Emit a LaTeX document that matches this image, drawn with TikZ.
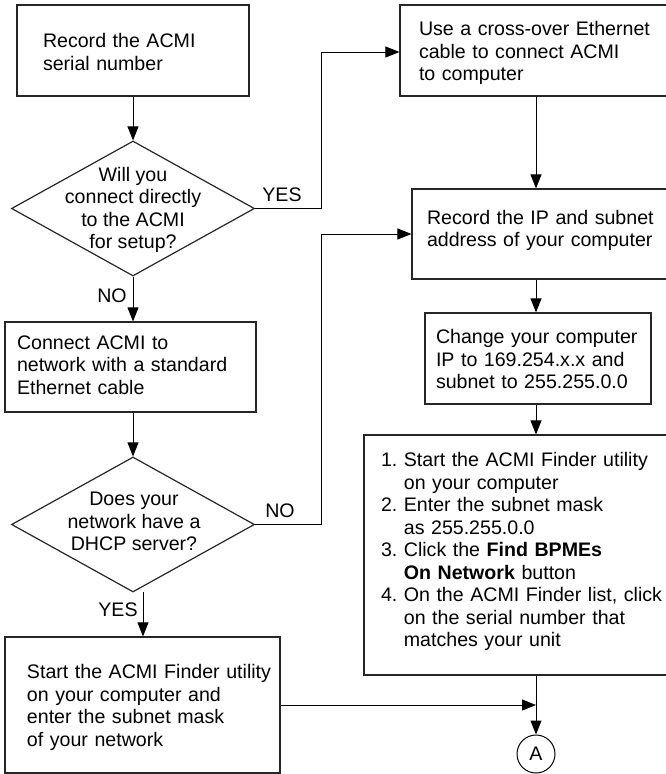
\documentclass[tikz,border=0pt]{standalone}
\usepackage{fontspec}
\setmainfont{Liberation Sans}
\usetikzlibrary{arrows.meta,shapes.geometric,calc}
\newcommand{\boxlines}[2][0pt]{\raisebox{-#1}[\height][\depth]{\begin{tabular}{@{}l@{}}#2\end{tabular}}}
\begin{document}
\begin{tikzpicture}[x=1pt,y=-1pt,
  every node/.style={font=\fontsize{19.6}{22.5}\selectfont\frenchspacing},
  box/.style={draw=black!85, line width=1.2pt, rectangle, align=left, inner ysep=0pt},
  dia/.style={draw=black!85, line width=1.2pt, diamond, inner sep=0pt, minimum width=243pt, minimum height=135pt},
  dtext/.style={align=center, inner sep=0pt},
  arr/.style={line width=1pt, -{Triangle[length=14pt,width=11pt]}},
  lbl/.style={inner sep=0pt},
  conn/.style={draw=black, line width=1pt, circle, minimum size=38pt, inner sep=0pt}]
\useasboundingbox (0,0) rectangle (666,774);
\clip (0,0) rectangle (666,774);

% boxes
\node[box, minimum width=232pt, minimum height=91pt, inner xsep=26pt, text width=180pt] (b1) at (133,50.5)
  {\boxlines[4pt]{Record the ACMI\\serial number}};
\node[box, minimum width=280pt, minimum height=91pt, inner xsep=19pt, text width=242pt] (b2) at (540,50.5)
  {\boxlines[3pt]{Use a cross-over Ethernet\\cable to connect ACMI\\to computer}};
\node[box, minimum width=268pt, minimum height=90pt, inner xsep=15pt, text width=238pt] (b3) at (546,234)
  {\boxlines[-3pt]{Record the IP and subnet\\address of your computer}};
\node[box, minimum width=226pt, minimum height=91pt, inner xsep=11pt, text width=204pt] (b4) at (538,358.5)
  {\boxlines[3pt]{Change your computer\\IP to 169.254.x.x and\\subnet to 255.255.0.0}};
\node[box, minimum width=316pt, minimum height=240pt, inner xsep=17pt, text width=282pt] (b5) at (522,555)
  {\boxlines[-3pt]{1. Start the ACMI Finder utility\\
  \phantom{1. }on your computer\\
  2. Enter the subnet mask\\
  \phantom{2. }as 255.255.0.0\\
  3. Click the \textbf{Find BPMEs}\\
  \phantom{3. }\textbf{On Network} button\\
  4. On the ACMI Finder list, click\\
  \phantom{4. }on the serial number that\\
  \phantom{4. }matches your unit}};
\node[box, minimum width=251pt, minimum height=90pt, inner xsep=12pt, text width=227pt] (bC) at (130.5,367)
  {\boxlines{Connect ACMI to\\network with a standard\\Ethernet cable}};
\node[box, minimum width=275pt, minimum height=136pt, inner xsep=22pt, text width=231pt] (b6) at (142.5,705)
  {\boxlines[3pt]{Start the ACMI Finder utility\\on your computer and\\enter the subnet mask\\of your network}};

% decisions
\node[dia] (d1) at (133,208.5) {};
\node[dtext] (d1t) at (133,210) {Will you\\connect directly\\to the ACMI\\for setup?};
\node[dia] (d2) at (133,524.5) {};
\node[dtext] (d2t) at (134,521.5) {Does your\\network have a\\DHCP server?};

% connector circle
\node[conn] (cA) at (536,754) {A};

% helper coordinates
\coordinate (ax) at (536,0);
\coordinate (j1) at (321,52);
\coordinate (j2) at (321,234);
\coordinate (y0) at (143,592);

% connectors
\draw[arr] (b1.south) -- (d1.north);
\draw[arr] (d1.east) -| (j1) -- (j1 -| b2.west);
\draw[arr] (d1.south) -- (d1.south |- bC.north);
\draw[arr] (d2.north |- bC.south) -- (d2.north);
\draw[arr] (d2.east) -| (j2) -- (j2 -| b3.west);
\draw[arr] (y0) -- (y0 |- b6.north);
\draw[arr] (b2.south -| ax) -- (b3.north -| ax);
\draw[arr] (b3.south -| ax) -- (b4.north -| ax);
\draw[arr] (b4.south -| ax) -- (b5.north -| ax);
\draw[arr] (b5.south -| ax) -- (cA.north);
\draw[arr] (b6.east) -- (b6.east -| ax);

% labels
\node[lbl] (lyes1) at (282,194.5) {YES};
\node[lbl] (lno1) at (112,296) {NO};
\node[lbl] (lno2) at (280,511) {NO};
\node[lbl] (lyes2) at (118,610) {YES};
\end{tikzpicture}
\end{document}
